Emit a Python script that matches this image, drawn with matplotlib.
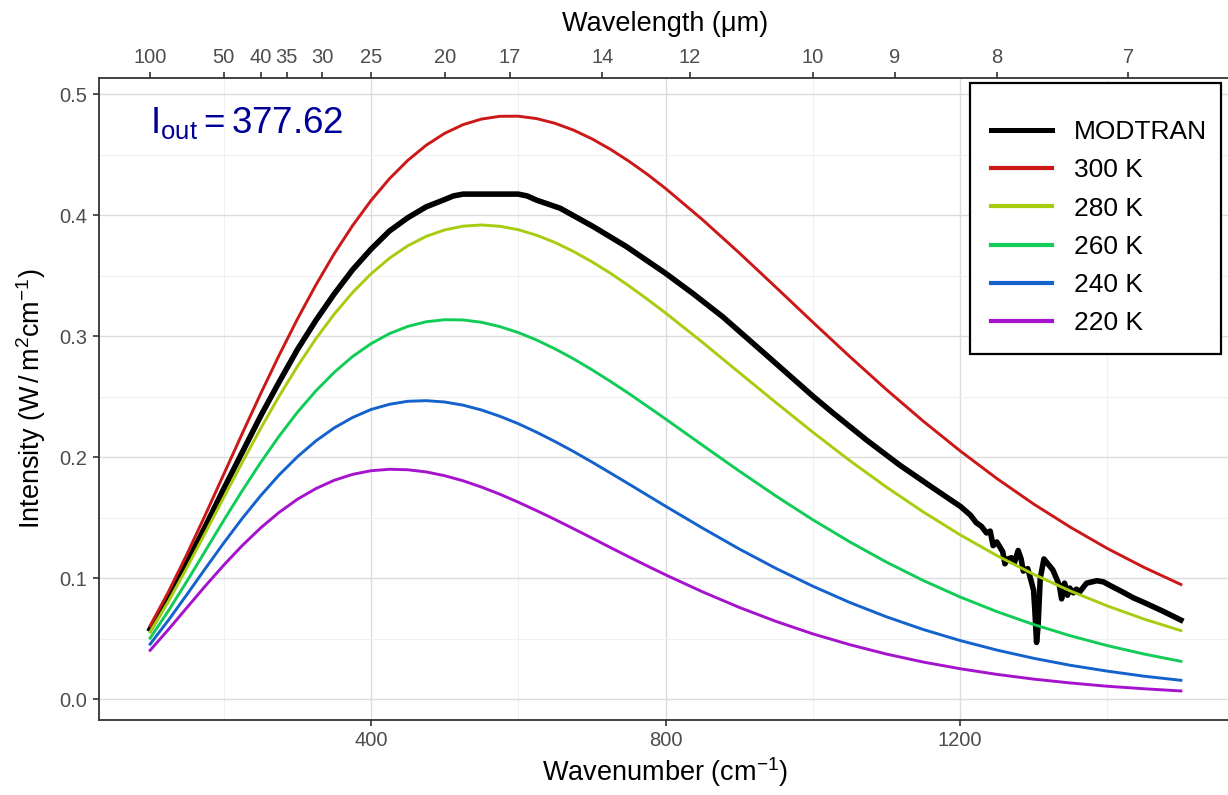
import numpy as np
import matplotlib
matplotlib.use('Agg')
import matplotlib.pyplot as plt
from matplotlib.lines import Line2D
from matplotlib.patches import Rectangle

plt.rcParams['font.family'] = ['Liberation Sans', 'DejaVu Sans']
plt.rcParams['mathtext.fontset'] = 'custom'
plt.rcParams['mathtext.rm'] = 'Liberation Sans'
plt.rcParams['mathtext.it'] = 'Liberation Sans:italic'
plt.rcParams['mathtext.bf'] = 'Liberation Sans:bold'

# wavenumber grid for the reference temperature curves (cm^-1)
nu_bb = [100, 125, 150, 175, 200, 225, 250, 275, 300, 325, 350, 375, 400, 425,
         450, 475, 500, 525, 550, 575, 600, 625, 650, 675, 700, 725, 750, 775,
         800, 850, 900, 950, 1000, 1050, 1100, 1150, 1200, 1250, 1300, 1350,
         1400, 1450, 1500]
# intensities (W/m2/cm-1)
i_300 = [0.0608, 0.0890, 0.1199, 0.1525, 0.1860, 0.2195, 0.2524, 0.2841, 0.3142,
         0.3423, 0.3682, 0.3915, 0.4122, 0.4302, 0.4454, 0.4579, 0.4677, 0.4749,
         0.4795, 0.4818, 0.4819, 0.4799, 0.4760, 0.4704, 0.4632, 0.4546, 0.4448,
         0.4340, 0.4222, 0.3965, 0.3690, 0.3405, 0.3117, 0.2834, 0.2560, 0.2299,
         0.2054, 0.1825, 0.1614, 0.1422, 0.1247, 0.1090, 0.0949]
i_280 = [0.0557, 0.0811, 0.1087, 0.1376, 0.1668, 0.1957, 0.2237, 0.2503, 0.2751,
         0.2979, 0.3183, 0.3362, 0.3516, 0.3645, 0.3748, 0.3826, 0.3879, 0.3910,
         0.3920, 0.3909, 0.3881, 0.3835, 0.3775, 0.3701, 0.3616, 0.3522, 0.3418,
         0.3308, 0.3193, 0.2951, 0.2701, 0.2452, 0.2208, 0.1974, 0.1754, 0.1549,
         0.1360, 0.1188, 0.1033, 0.0895, 0.0772, 0.0663, 0.0568]
i_260 = [0.0506, 0.0733, 0.0976, 0.1227, 0.1479, 0.1723, 0.1956, 0.2173, 0.2372,
         0.2548, 0.2702, 0.2833, 0.2939, 0.3022, 0.3082, 0.3120, 0.3137, 0.3135,
         0.3116, 0.3080, 0.3031, 0.2969, 0.2896, 0.2814, 0.2724, 0.2628, 0.2528,
         0.2423, 0.2317, 0.2101, 0.1887, 0.1680, 0.1484, 0.1302, 0.1134, 0.0982,
         0.0846, 0.0725, 0.0618, 0.0525, 0.0444, 0.0374, 0.0314]
i_240 = [0.0456, 0.0655, 0.0866, 0.1081, 0.1292, 0.1494, 0.1682, 0.1853, 0.2004,
         0.2135, 0.2243, 0.2329, 0.2395, 0.2438, 0.2463, 0.2468, 0.2457, 0.2431,
         0.2391, 0.2339, 0.2278, 0.2207, 0.2130, 0.2048, 0.1961, 0.1871, 0.1780,
         0.1688, 0.1596, 0.1416, 0.1243, 0.1082, 0.0935, 0.0801, 0.0682, 0.0577,
         0.0486, 0.0407, 0.0339, 0.0281, 0.0233, 0.0191, 0.0157]
i_220 = [0.0405, 0.0578, 0.0758, 0.0937, 0.1109, 0.1270, 0.1416, 0.1544, 0.1653,
         0.1741, 0.1810, 0.1859, 0.1889, 0.1901, 0.1897, 0.1879, 0.1848, 0.1806,
         0.1754, 0.1695, 0.1629, 0.1559, 0.1486, 0.1410, 0.1333, 0.1255, 0.1178,
         0.1103, 0.1029, 0.0889, 0.0760, 0.0644, 0.0541, 0.0452, 0.0374, 0.0308,
         0.0253, 0.0206, 0.0167, 0.0135, 0.0108, 0.0087, 0.0069]

# MODTRAN spectrum
nu_mod = [100, 125, 150, 175, 200, 225, 250, 275, 300, 325, 350, 375, 400, 425,
          450, 475, 500, 512, 525, 550, 600, 612, 625, 657, 702, 747, 800, 838,
          878, 937, 983, 1001, 1028, 1073, 1118, 1164, 1201, 1214,
          1222, 1229, 1236, 1241, 1245, 1250, 1254, 1258, 1261, 1265, 1270, 1274,
          1279, 1283, 1286, 1292, 1297, 1300, 1302, 1304, 1306, 1309, 1314, 1318,
          1322, 1326, 1331, 1335, 1338, 1342, 1346, 1349, 1354, 1358, 1363, 1368,
          1372, 1379, 1386, 1395, 1404, 1420, 1435, 1450, 1475, 1500]
i_mod = [0.058, 0.084, 0.113, 0.143, 0.174, 0.204, 0.234, 0.262, 0.289, 0.313,
         0.335, 0.355, 0.372, 0.387, 0.398, 0.407, 0.413, 0.416, 0.4175, 0.4175,
         0.4175, 0.416, 0.4125, 0.4058, 0.3906, 0.3741, 0.3521, 0.3350, 0.3160,
         0.2845, 0.2598, 0.2501, 0.2364, 0.2143, 0.1936, 0.1744, 0.1592, 0.1523,
         0.146, 0.143, 0.1375, 0.139, 0.127, 0.130, 0.126, 0.122,
         0.112, 0.116, 0.117, 0.113, 0.123, 0.116, 0.106, 0.108, 0.097, 0.090,
         0.070, 0.047, 0.060, 0.100, 0.116, 0.113, 0.110, 0.107, 0.100, 0.094,
         0.083, 0.096, 0.086, 0.092, 0.088, 0.091, 0.089, 0.093, 0.096, 0.097,
         0.098, 0.097, 0.094, 0.089, 0.084, 0.080, 0.073, 0.0655]

temps = ['300 K', '280 K', '260 K', '240 K', '220 K']
curves = [i_300, i_280, i_260, i_240, i_220]
colors = ['#CC1818', '#A8CC10', '#12CC58', '#1462CC', '#A514CC']

wl_ticks = [100, 50, 40, 35, 30, 25, 20, 17, 14, 12, 10, 9, 8, 7]
i_out = 377.62

W, H = 1228, 795
fig = plt.figure(figsize=(W / 100, H / 100), dpi=100)
ax = fig.add_axes([98.6 / W, (H - 720) / H, (1232.4 - 98.6) / W, (720 - 77.7) / H])

ax.plot(nu_mod, i_mod, color='black', lw=4.0, solid_joinstyle='round', zorder=3)
for c, y, col in zip(temps, curves, colors):
    ax.plot(nu_bb, y, color=col, lw=2.1, zorder=4)

ax.set_xlim(30, 1570)
ax.set_ylim(-0.0171, 0.5137)
ax.set_xticks([400, 800, 1200])
ax.set_xticks([200, 600, 1000, 1400], minor=True)
ax.set_yticks([0, 0.1, 0.2, 0.3, 0.4, 0.5])
ax.set_yticklabels(['0.0', '0.1', '0.2', '0.3', '0.4', '0.5'])
ax.set_yticks(np.arange(0.05, 0.5, 0.1), minor=True)
ax.grid(which='major', color='#DCDCDC', lw=1.0, zorder=0)
ax.grid(which='minor', color='#F0F0F0', lw=0.8, zorder=0)
ax.tick_params(which='major', length=4, width=1.2, color='#333333',
               labelsize=14.5, labelcolor='#4D4D4D', pad=4)
ax.tick_params(which='minor', length=0)
for s in ax.spines.values():
    s.set_color('#333333')
    s.set_linewidth(1.3)

ax.set_xlabel('Wavenumber (cm$^{-1}$)', fontsize=19.5, labelpad=4)
ax.set_ylabel('Intensity (W$\\,$/$\\,$m$^{2}$cm$^{-1}$)', fontsize=19.5, labelpad=8)

top = ax.twiny()
top.set_xlim(ax.get_xlim())
top.set_xticks([1e4 / w for w in wl_ticks])
top.set_xticklabels([str(w) for w in wl_ticks])
top.tick_params(length=4, width=1.2, color='#333333', labelsize=14.5,
                labelcolor='#4D4D4D', pad=4)
top.set_xlabel('Wavelength (\u03bcm)', fontsize=19.5, labelpad=12)
for s in top.spines.values():
    s.set_visible(False)

ax.text(100, 0.468, r'$\mathrm{I_{out}=377.62}$', color='#000099', fontsize=26.5,
        ha='left', va='baseline', zorder=6)

# legend box drawn by hand so the padding matches
box = Rectangle((970 / W, 1 - 354 / H), 251 / W, 271 / H, transform=fig.transFigure,
                facecolor='white', edgecolor='black', lw=1.6, zorder=3)
fig.patches.append(box)

handles = [Line2D([], [], color='black', lw=3.6)]
handles += [Line2D([], [], color=col, lw=3.0) for col in colors]
leg = fig.legend(handles, ['MODTRAN'] + temps, loc='upper left',
                 bbox_to_anchor=(991 / W, 1 - 120 / H), frameon=False,
                 fontsize=19, borderpad=0, labelspacing=0.54,
                 handlelength=2.3, handletextpad=0.85, borderaxespad=0)
leg.set_zorder(5)

fig.savefig('out.png', dpi=100)
